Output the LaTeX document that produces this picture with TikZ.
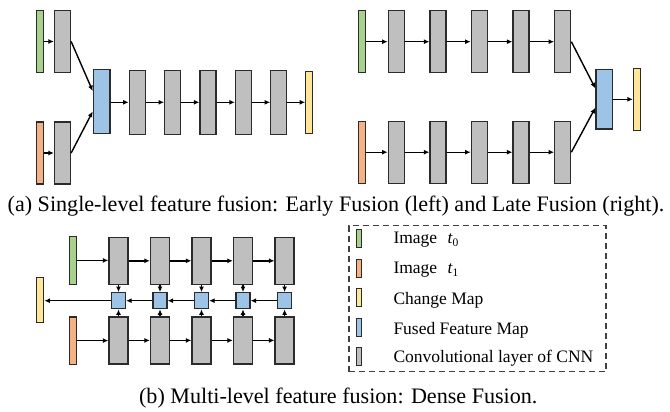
\documentclass[tikz,border=0pt]{standalone}
\usepackage{fontspec}
\setmainfont{Liberation Serif}
\usetikzlibrary{arrows.meta,calc}

\definecolor{imgA}{HTML}{A9D18E}
\definecolor{imgB}{HTML}{F4B183}
\definecolor{chg}{HTML}{FFE699}
\definecolor{fus}{HTML}{9DC3E6}
\definecolor{cnv}{HTML}{BFBFBF}
\definecolor{edge}{HTML}{2B2B2B}

\tikzset{
  blk/.style={draw=edge, line width=1.3pt, rectangle, inner sep=0pt},
  bar/.style={blk, minimum width=7pt, minimum height=62pt},
  green/.style={bar, fill=imgA},
  orange/.style={bar, fill=imgB},
  yellowbar/.style={bar, fill=chg},
  conv/.style={blk, fill=cnv, minimum width=16pt, minimum height=62pt},
  fuse/.style={blk, fill=fus, minimum width=16.7pt, minimum height=62pt},
  dconv/.style={blk, fill=cnv, minimum width=19pt, minimum height=47pt},
  dfuse/.style={blk, fill=fus, minimum width=14pt, minimum height=16pt},
  sw/.style={blk, line width=1pt, minimum width=4.5pt, minimum height=18pt},
  arr/.style={line width=1.4pt, -{Latex[length=5.5pt,width=5pt]}},
  capt/.style={font=\fontsize{22.1}{26}\selectfont, inner sep=0pt, anchor=base},
  legtxt/.style={font=\fontsize{17.5}{20}\selectfont, inner sep=0pt, anchor=west},
}
\newcommand{\tsub}[2]{{\itshape #1}\raisebox{-0.35ex}{\fontsize{11.5}{12}\selectfont #2}}

\begin{document}
\begin{tikzpicture}[x=1pt,y=-1pt]
\useasboundingbox (0,0) rectangle (670,412);

% ---------- Early fusion ----------
\node[green]  (eg)  at (40,41.5) {};
\node[conv]   (ec1) at (62.5,41.5) {};
\node[orange] (eo)  at (40,153) {};
\node[conv]   (ec2) at (62.5,153) {};
\node[fuse, minimum height=63.5pt] (ef) at (101.7,101.5) {};
\foreach \i/\x in {1/137.3,2/172.7,3/208,4/243.5,5/278.8}
  \node[conv, minimum height=64pt] (el\i) at (\x,102.3) {};
\node[yellowbar] (ey) at (309.3,102.3) {};
\draw[arr] (eg) -- (ec1);
\draw[arr] (eo) -- (ec2);
\draw[arr] (ec1.east) -- ($(ef.west)+(0,-10.5)$);
\draw[arr] (ec2.east) -- ($(ef.west)+(0,10)$);
\draw[arr] (ef.east |- el1) -- (el1);
\draw[arr] (el1) -- (el2);
\draw[arr] (el2) -- (el3);
\draw[arr] (el3) -- (el4);
\draw[arr] (el4) -- (el5);
\draw[arr] (el5) -- (ey);

% ---------- Late fusion ----------
\node[green]  (lg) at (361.8,41.7) {};
\node[orange] (lo) at (361.8,152.2) {};
\foreach \i/\x in {1/396.3,2/438,3/479.3,4/521,5/562.7}{
  \node[conv] (lt\i) at (\x,41.7) {};
  \node[conv] (lb\i) at (\x,152.2) {};
}
\node[fuse, minimum height=59.5pt] (lf) at (604.3,99.3) {};
\node[yellowbar] (ly) at (637,99.7) {};
\draw[arr] (lg) -- (lt1);
\draw[arr] (lo) -- (lb1);
\foreach \a/\b in {1/2,2/3,3/4,4/5}{
  \draw[arr] (lt\a) -- (lt\b);
  \draw[arr] (lb\a) -- (lb\b);
}
\draw[arr] (lt5.east) -- ($(lf.west)+(0,-11)$);
\draw[arr] (lb5.east) -- ($(lf.west)+(0,8.5)$);
\draw[arr] (lf.east) -- (lf.east -| ly.west);

\node[capt] (capa) at (336,211)
  {(a) Single-level feature fusion: Early Fusion (left) and Late Fusion (right).};

% ---------- Dense fusion ----------
\node[green, minimum height=47.5pt]  (dg) at (72.7,260.4) {};
\node[orange, minimum height=47.5pt] (do) at (72.7,340.6) {};
\node[yellowbar, minimum height=45.5pt] (dy) at (40.3,300) {};
\foreach \i/\x in {1/118.5,2/160,3/201.5,4/243,5/284.6}{
  \node[dconv] (dt\i) at (\x,260.8) {};
  \node[dfuse] (df\i) at (\x,300.7) {};
  \node[dconv] (db\i) at (\x,340.4) {};
  \draw[arr] (dt\i) -- (df\i);
  \draw[arr] (db\i) -- (df\i);
}
\draw[arr] (dg.east) -- (dg.east -| dt1.west);
\draw[arr] (do.east) -- (do.east -| db1.west);
\foreach \a/\b in {1/2,2/3,3/4,4/5}{
  \draw[arr] (dt\a) -- (dt\b);
  \draw[arr] (db\a) -- (db\b);
  \draw[arr] (df\b) -- (df\a);
}
\draw[arr] (df1.west) -- (df1.west -| dy.east);

% ---------- Legend ----------
\node[draw=edge!90, dashed, dash pattern=on 6pt off 4pt, line width=1.2pt,
      rectangle, inner sep=0pt, minimum width=257pt, minimum height=146pt]
  (leg) at (477.5,298.7) {};
\node[sw, fill=imgA] (s1) at (358.8,238.3) {};
\node[sw, fill=imgB] (s2) at (358.8,268.3) {};
\node[sw, fill=chg]  (s3) at (358.8,297.5) {};
\node[sw, fill=fus]  (s4) at (358.8,327.2) {};
\node[sw, fill=cnv]  (s5) at (358.8,356.7) {};
\node[legtxt] (t1) at (393.3,240) {Image\hspace{0.6em}\tsub{t}{0}};
\node[legtxt] (t2) at (393.3,270) {Image\hspace{0.6em}\tsub{t}{1}};
\node[legtxt] (t3) at (393.3,300) {Change Map};
\node[legtxt] (t4) at (393.3,330) {Fused Feature Map};
\node[legtxt] (t5) at (393.3,358.5) {Convolutional layer of CNN};

\node[capt] (capb) at (338.3,403.3) {(b) Multi-level feature fusion: Dense Fusion.};
\end{tikzpicture}
\end{document}
